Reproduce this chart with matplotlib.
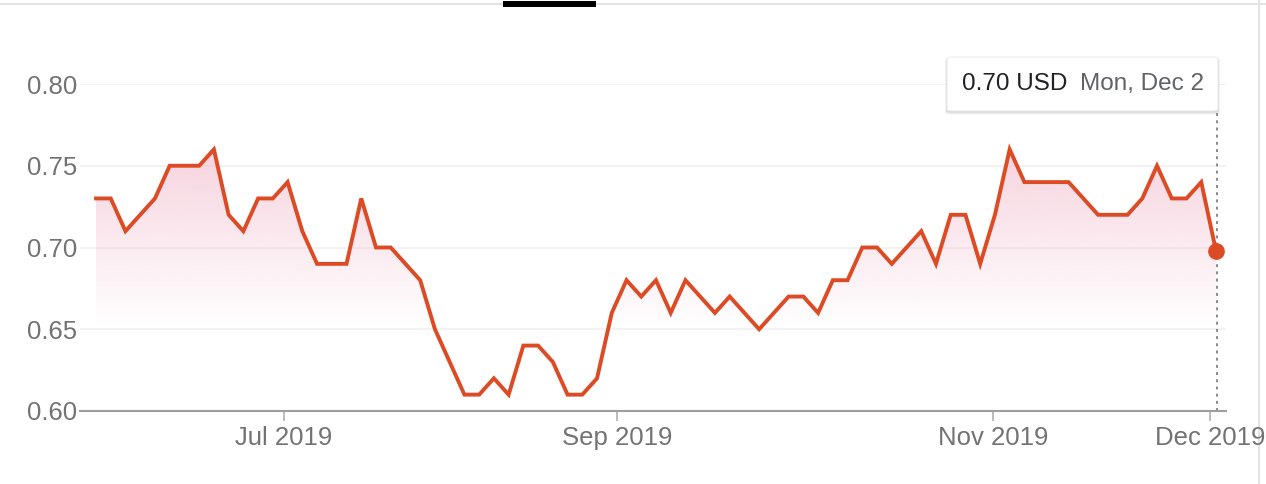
"""Price chart with a pink gradient area, hover tooltip and end marker."""

import matplotlib

matplotlib.use("Agg")
import matplotlib.pyplot as plt  # noqa: E402
import numpy as np  # noqa: E402
from matplotlib.colors import to_rgb  # noqa: E402
from matplotlib.patches import FancyBboxPatch, Polygon, Rectangle  # noqa: E402
from matplotlib.transforms import blended_transform_factory  # noqa: E402

price = [
    0.73, 0.73, 0.71, 0.72, 0.73, 0.75, 0.75, 0.75, 0.76, 0.72,
    0.71, 0.73, 0.73, 0.74, 0.71, 0.69, 0.69, 0.69, 0.73, 0.70,
    0.70, 0.69, 0.68, 0.65, 0.63, 0.61, 0.61, 0.62, 0.61, 0.64,
    0.64, 0.63, 0.61, 0.61, 0.62, 0.66, 0.68, 0.67, 0.68, 0.66,
    0.68, 0.67, 0.66, 0.67, 0.66, 0.65, 0.66, 0.67, 0.67, 0.66,
    0.68, 0.68, 0.70, 0.70, 0.69, 0.70, 0.71, 0.69, 0.72, 0.72,
    0.69, 0.72, 0.76, 0.74, 0.74, 0.74, 0.74, 0.73, 0.72, 0.72,
    0.72, 0.73, 0.75, 0.73, 0.73, 0.74, 0.698,
]
# month boundaries, as fractional positions in the sample index
tick_pos = [12.76, 35.35, 60.87, 75.59]
tick_labels = ["Jul 2019", "Sep 2019", "Nov 2019", "Dec 2019"]
y_ticks = [0.60, 0.65, 0.70, 0.75, 0.80]
hover_date = "Mon, Dec 2"

LINE = "#dd4b25"
FILL = "#f2b8ca"
GRID = "#f0f0f0"
AXIS = "#9e9e9e"
LABEL = "#737373"

plt.rcParams["font.family"] = ["Liberation Sans", "DejaVu Sans"]

W, H = 1266, 484
fig = plt.figure(figsize=(W / 100, H / 100), dpi=100)
ax = fig.add_axes([80 / W, (H - 411) / H, (1226 - 80) / W, (411 - 84) / H])

x = np.arange(len(price))
y = np.array(price)

# gradient area down to 0.65
base = 0.65
top = y.max() + 0.005
n = 256
rgba = np.zeros((n, 1, 4))
rgba[..., :3] = to_rgb(FILL)
rgba[:, 0, 3] = np.linspace(0, 0.64, n)
im = ax.imshow(rgba, extent=[x[0], x[-1], base, top], aspect="auto",
               origin="lower", zorder=1, interpolation="bilinear")
verts = [(x[0], base)] + list(zip(x, np.maximum(y, base))) + [(x[-1], base)]
clip = Polygon(verts, closed=True, facecolor="none", edgecolor="none",
               transform=ax.transData)
ax.add_patch(clip)
im.set_clip_path(clip)

ax.plot(x, y, color=LINE, lw=2.8, solid_joinstyle="miter", zorder=3)
ax.plot(x[-1], y[-1], "o", color=LINE, ms=11, zorder=4)

ax.set_xlim(-1.086, 76.68)
ax.set_ylim(0.60, 0.80)

for spine in ("top", "right", "left"):
    ax.spines[spine].set_visible(False)
ax.spines["bottom"].set_color(AXIS)
ax.spines["bottom"].set_linewidth(1.5)
ax.set_yticks(y_ticks)
ax.set_yticklabels([f"{v:.2f}" for v in y_ticks])
ax.set_xticks(tick_pos)
ax.set_xticklabels(tick_labels)
ax.tick_params(axis="y", length=0, pad=2, labelsize=18.5, labelcolor=LABEL)
ax.tick_params(axis="x", length=7, width=1.2, color="#b0b0b0", pad=4,
               labelsize=18.5, labelcolor=LABEL)
ax.grid(axis="y", color=GRID, lw=1.2)
ax.set_axisbelow(True)

# hover guide and tooltip (figure pixel coordinates for the box)
tip_l, tip_r, tip_t, tip_b = 947, 1218, 57, 111
blend = blended_transform_factory(ax.transData, fig.transFigure)
ax.plot([x[-1] + 0.05, x[-1] + 0.05], [(H - 411) / H, (H - tip_b) / H],
        transform=blend, color="#8a8a8a", lw=1.4, ls=(0, (1.5, 2.2)),
        clip_on=False, zorder=2)

# soft shadow: a few faint offset layers
for off, a in [(4, 0.06), (3, 0.08), (2, 0.12), (1, 0.16)]:
    fig.add_artist(FancyBboxPatch(
        ((tip_l - off * 0.5) / W, (H - tip_b - off) / H),
        (tip_r - tip_l + off) / W, (tip_b - tip_t + off * 0.5) / H,
        boxstyle="round,pad=0,rounding_size=0.004",
        transform=fig.transFigure, facecolor="#808080",
        edgecolor="none", alpha=a, zorder=5))
box = FancyBboxPatch((tip_l / W, (H - tip_b) / H),
                     (tip_r - tip_l) / W, (tip_b - tip_t) / H,
                     boxstyle="round,pad=0,rounding_size=0.004",
                     transform=fig.transFigure, facecolor="white",
                     edgecolor="#ededed", lw=0.8, zorder=6)
fig.add_artist(box)
mid = (H - (tip_t + tip_b) / 2) / H
fig.text(962 / W, mid, f"{price[-1]:.2f} USD", fontsize=17.5, color="#202124",
         va="center", ha="left", zorder=7)
fig.text(1080 / W, mid, hover_date, fontsize=17.5, color="#5f6368",
         va="center", ha="left", zorder=7)

# page chrome: top rule with the active-tab bar, right divider
fig.add_artist(Rectangle((0, (H - 5) / H), 1, 2 / H, transform=fig.transFigure,
                         facecolor="#e3e3e3", edgecolor="none"))
fig.add_artist(Rectangle((503 / W, (H - 6.5) / H), 93 / W, 5 / H,
                         transform=fig.transFigure, facecolor="black",
                         edgecolor="none"))
fig.add_artist(Rectangle((1258 / W, 0), 2 / W, 1, transform=fig.transFigure,
                         facecolor="#e3e3e3", edgecolor="none", zorder=0))

fig.savefig("out.png", dpi=100)
plt.close(fig)
